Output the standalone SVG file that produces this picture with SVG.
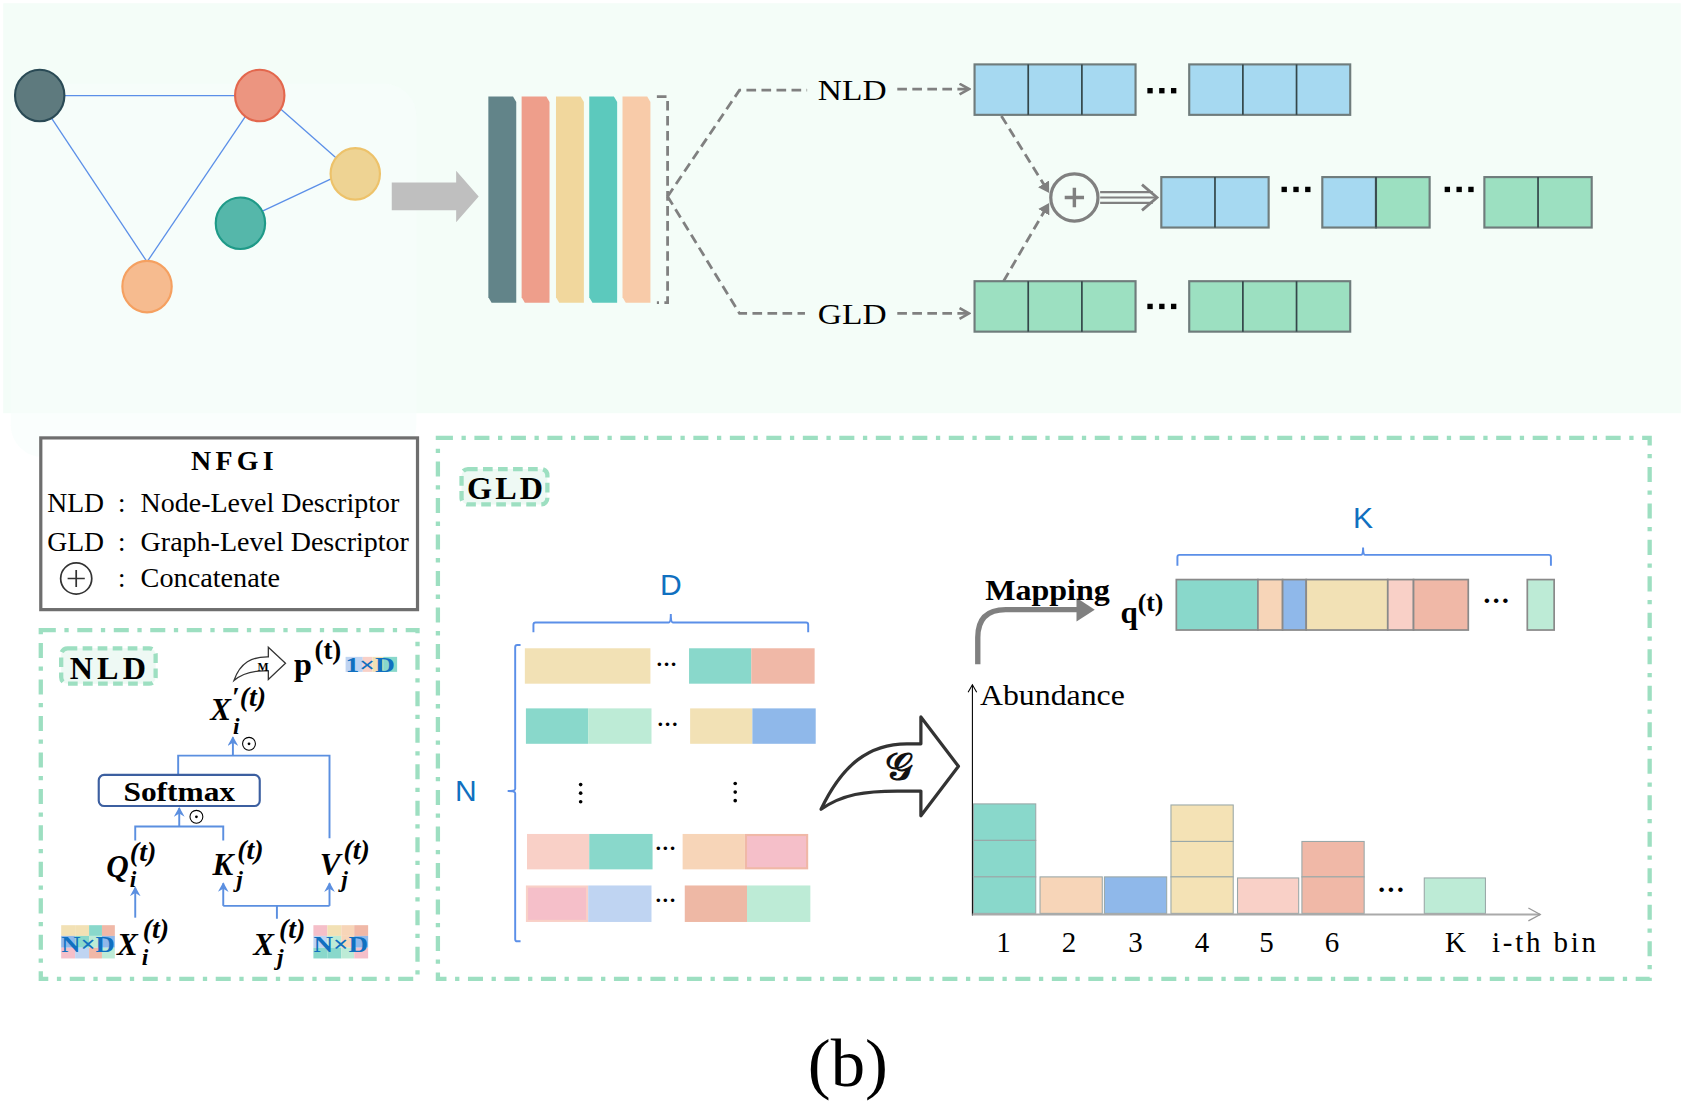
<svg xmlns="http://www.w3.org/2000/svg" width="1683" height="1102" viewBox="0 0 1683 1102">
<defs>
<style>
.serif{font-family:"Liberation Serif","Times New Roman",serif;fill:#000}
.sans{font-family:"Liberation Sans",Arial,sans-serif}
.bi{font-family:"Liberation Serif","Times New Roman",serif;font-weight:bold;font-style:italic;fill:#000}
.b{font-weight:bold}
.edge{stroke:#5b8fe8;stroke-width:1.2;fill:none}
.dash{stroke:#808080;stroke-width:2.6;stroke-dasharray:9,5;fill:none}
.cell{stroke:#6f7c7c;stroke-width:2}
.div{stroke:#34474a;stroke-width:1.6}
.blue{fill:#a6d9f1}
.green{fill:#9ce0c1}
.frame{fill:none;stroke:#9ddfc1;stroke-width:4;stroke-dasharray:14,8,4,8}
.tag{fill:#eef9f4;stroke:#9ddfc1;stroke-width:4;stroke-dasharray:9,5}
.bl{stroke:#5b8fe0;stroke-width:1.8;fill:none}
.brace{stroke:#5b8fe8;stroke-width:1.8;fill:none}
.hist{stroke:#9aa8a8;stroke-width:1}
.dots{font-family:"Liberation Serif",serif;font-weight:bold;fill:#000}
.sq{fill:#000}
.chip{font-family:"Liberation Serif","Times New Roman",serif;font-weight:bold;fill:#1070c0}
</style>
<marker id="open" markerWidth="12" markerHeight="12" refX="10" refY="6" orient="auto" markerUnits="userSpaceOnUse">
<path d="M1,1 L10,6 L1,11" fill="none" stroke="#808080" stroke-width="2.4"/>
</marker>
<marker id="fill" markerWidth="12" markerHeight="12" refX="9" refY="6" orient="auto" markerUnits="userSpaceOnUse">
<path d="M0,0 L10,6 L0,12 Z" fill="#808080"/>
</marker>
<marker id="bluearr" markerWidth="10" markerHeight="10" refX="8" refY="5" orient="auto" markerUnits="userSpaceOnUse">
<path d="M0,0 L9,5 L0,10 L3,5 Z" fill="#5b8fe0"/>
</marker>
<marker id="thin" markerWidth="14" markerHeight="14" refX="12" refY="7" orient="auto" markerUnits="userSpaceOnUse">
<path d="M1,1 L12,7 L1,13" fill="none" stroke="#999" stroke-width="1.2"/>
</marker>
<marker id="thinb" markerWidth="10" markerHeight="10" refX="8" refY="5" orient="auto" markerUnits="userSpaceOnUse">
<path d="M1,1 L8,5 L1,9" fill="none" stroke="#000" stroke-width="1"/>
</marker>
</defs>
<rect width="1683" height="1102" fill="#ffffff"/>
<g transform="scale(1.0733)">
<!-- top panel background -->
<rect x="3" y="3" width="1563" height="382" fill="#f4fdf8"/>
<rect x="10" y="78" width="378" height="348" rx="30" fill="#f7fefb" opacity="0.6"/>

<!-- graph connectors -->
<g id="graph-edges">
<line class="edge" x1="60" y1="89" x2="219" y2="89"/>
<line class="edge" x1="48" y1="110" x2="137" y2="244"/>
<line class="edge" x1="229" y1="108" x2="137" y2="244"/>
<line class="edge" x1="262" y1="102" x2="313" y2="147"/>
<line class="edge" x1="244" y1="197" x2="310" y2="166"/>
</g>
<g id="node-dark"><ellipse cx="37" cy="89" rx="23" ry="24" fill="#5e7a7e" stroke="#2a4a55" stroke-width="2"/></g>
<g id="node-salmon"><ellipse cx="242" cy="89" rx="23" ry="24" fill="#ec9580" stroke="#e3674d" stroke-width="2"/></g>
<g id="node-yellow"><ellipse cx="331" cy="162" rx="23" ry="24" fill="#eed393" stroke="#edc26a" stroke-width="2"/></g>
<g id="node-teal"><ellipse cx="224" cy="208" rx="23" ry="24" fill="#55b7aa" stroke="#1f9a88" stroke-width="2"/></g>
<g id="node-orange"><ellipse cx="137" cy="267" rx="23" ry="24" fill="#f6bb8f" stroke="#f5a060" stroke-width="2"/></g>

<!-- big gray arrow -->
<g id="gray-arrow"><path d="M365,170 L425,170 L425,159 L446,183 L425,207 L425,196 L365,196 Z" fill="#bfbfbf"/></g>

<!-- layer bars -->
<g id="layers">
<path d="M455,90 L478,90 L481,95 L481,282 L458,282 L455,277 Z" fill="#628489"/>
<path d="M486,90 L509,90 L512,95 L512,282 L489,282 L486,277 Z" fill="#ee9e8b"/>
<path d="M518,90 L541,90 L544,95 L544,282 L521,282 L518,277 Z" fill="#f1d79d"/>
<path d="M549,90 L572,90 L575,95 L575,282 L552,282 L549,277 Z" fill="#5cc9bd"/>
<path d="M580,90 L603,90 L606,95 L606,282 L583,282 L580,277 Z" fill="#f8cba9"/>
<path class="dash" d="M612,90 L622,90 L622,282 L612,282"/>
</g>

<!-- connectors top -->
<g id="connectors">
<path class="dash" d="M622,183 L689,84 L752,84"/>
<path class="dash" d="M622,183 L689,292 L750,292"/>
<line class="dash" x1="836" y1="83" x2="903" y2="83" marker-end="url(#open)"/>
<line class="dash" x1="836" y1="292" x2="903" y2="292" marker-end="url(#open)"/>
<line class="dash" x1="933" y1="108" x2="977" y2="179" marker-end="url(#fill)"/>
<line class="dash" x1="935" y1="262" x2="977" y2="190" marker-end="url(#fill)"/>
<g stroke="#808080" stroke-width="2" fill="none">
<line x1="1025" y1="179" x2="1074" y2="179"/>
<line x1="1025" y1="184" x2="1076" y2="184"/>
<line x1="1025" y1="189" x2="1074" y2="189"/>
<path d="M1064,172 L1078,184 L1064,196" stroke-width="2.6"/>
</g>
</g>

<g id="label-nld-top"><text class="serif" x="762" y="93" font-size="28" textLength="64" lengthAdjust="spacingAndGlyphs">NLD</text></g>
<g id="label-gld-top"><text class="serif" x="762" y="302" font-size="28" textLength="64" lengthAdjust="spacingAndGlyphs">GLD</text></g>

<!-- NLD vector -->
<g id="nld-vector">
<rect class="cell blue" x="908" y="60" width="150" height="47"/>
<line class="div" x1="958" y1="60" x2="958" y2="107"/><line class="div" x1="1008" y1="60" x2="1008" y2="107"/>
<rect class="sq" x="1069" y="82" width="5" height="5"/><rect class="sq" x="1080" y="82" width="5" height="5"/><rect class="sq" x="1091" y="82" width="5" height="5"/>
<rect class="cell blue" x="1108" y="60" width="150" height="47"/>
<line class="div" x1="1158" y1="60" x2="1158" y2="107"/><line class="div" x1="1208" y1="60" x2="1208" y2="107"/>
</g>
<!-- GLD vector -->
<g id="gld-vector">
<rect class="cell green" x="908" y="262" width="150" height="47"/>
<line class="div" x1="958" y1="262" x2="958" y2="309"/><line class="div" x1="1008" y1="262" x2="1008" y2="309"/>
<rect class="sq" x="1069" y="283" width="5" height="5"/><rect class="sq" x="1080" y="283" width="5" height="5"/><rect class="sq" x="1091" y="283" width="5" height="5"/>
<rect class="cell green" x="1108" y="262" width="150" height="47"/>
<line class="div" x1="1158" y1="262" x2="1158" y2="309"/><line class="div" x1="1208" y1="262" x2="1208" y2="309"/>
</g>
<!-- concat -->
<g id="concat-op">
<circle cx="1001" cy="184" r="22" fill="none" stroke="#808080" stroke-width="3"/>
<path d="M992,184 L1010,184 M1001,175 L1001,193" stroke="#808080" stroke-width="3.2"/>
</g>
<g id="concat-vector">
<rect class="cell blue" x="1082" y="165" width="100" height="47"/>
<line class="div" x1="1132" y1="165" x2="1132" y2="212"/>
<rect class="sq" x="1194" y="174" width="5" height="5"/><rect class="sq" x="1205" y="174" width="5" height="5"/><rect class="sq" x="1216" y="174" width="5" height="5"/>
<rect class="cell blue" x="1232" y="165" width="50" height="47"/>
<rect class="cell green" x="1282" y="165" width="50" height="47"/>
<line class="div" x1="1282" y1="165" x2="1282" y2="212"/>
<rect class="sq" x="1346" y="174" width="5" height="5"/><rect class="sq" x="1357" y="174" width="5" height="5"/><rect class="sq" x="1368" y="174" width="5" height="5"/>
<rect class="cell green" x="1383" y="165" width="100" height="47"/>
<line class="div" x1="1433" y1="165" x2="1433" y2="212"/>
</g>

<!-- NFGI legend -->
<g id="legend">
<rect x="38" y="408" width="351" height="160" fill="#fff" stroke="#6e6e6e" stroke-width="3"/>
<text class="serif b" x="178" y="438" font-size="26" textLength="77" lengthAdjust="spacing">NFGI</text>
<text class="serif" x="44" y="477" font-size="25" textLength="53" lengthAdjust="spacingAndGlyphs">NLD</text>
<text class="serif" x="110" y="477" font-size="25">:</text>
<text class="serif" x="131" y="477" font-size="25" textLength="241" lengthAdjust="spacingAndGlyphs">Node-Level Descriptor</text>
<text class="serif" x="44" y="513" font-size="25" textLength="53" lengthAdjust="spacingAndGlyphs">GLD</text>
<text class="serif" x="110" y="513" font-size="25">:</text>
<text class="serif" x="131" y="513" font-size="25" textLength="250" lengthAdjust="spacingAndGlyphs">Graph-Level Descriptor</text>
<circle cx="71" cy="539" r="14.5" fill="none" stroke="#333" stroke-width="1.6"/>
<path d="M63,539 L79,539 M71,531 L71,547" stroke="#333" stroke-width="1.6"/>
<text class="serif" x="110" y="547" font-size="25">:</text>
<text class="serif" x="131" y="547" font-size="25" textLength="130" lengthAdjust="spacingAndGlyphs">Concatenate</text>
</g>

<!-- NLD panel -->
<g id="nld-panel">
<rect class="frame" x="38" y="587" width="351" height="325"/>
<rect class="tag" x="57" y="604" width="88" height="33" rx="6"/>
<text class="serif b" x="65" y="633" font-size="30" textLength="71" lengthAdjust="spacing">NLD</text>
<path d="M218,634 C224,617 235,612 249,612 L250,612 L250,603 L266,618 L250,633 L250,625 L246,625 C233,625 225,628 218,634 Z" fill="#fff" stroke="#333" stroke-width="1.2"/>
<text class="serif b" x="245" y="625" font-size="11" text-anchor="middle">M</text>
<text class="serif b" x="274" y="629" font-size="30">p</text>
<text class="serif b" x="293" y="614" font-size="25">(t)</text>
<rect x="322" y="612" width="16" height="14" fill="#bfd4f2"/>
<rect x="338" y="612" width="9" height="14" fill="#f9d0c7"/>
<rect x="347" y="612" width="10" height="14" fill="#f2e1b5"/>
<rect x="357" y="612" width="13" height="14" fill="#89d8cb"/>
<text class="chip" x="322" y="626" font-size="20" textLength="46" lengthAdjust="spacingAndGlyphs">1×D</text>
<text class="bi" x="196" y="671" font-size="29">X</text>
<text class="bi" x="216" y="658" font-size="26">′(t)</text>
<text class="bi" x="217" y="684" font-size="22">i</text>
<path class="bl" d="M166,722 L166,704 L307,704 L307,781"/>
<line class="bl" x1="217" y1="704" x2="217" y2="687" marker-end="url(#bluearr)"/>
<circle cx="232" cy="693" r="6" fill="none" stroke="#000" stroke-width="1"/><circle cx="232" cy="693" r="1.3" fill="#000"/>
<rect x="92" y="722" width="150" height="29" rx="5" fill="#fff" stroke="#3c5fa0" stroke-width="2"/>
<text class="serif b" x="115" y="746" font-size="26" textLength="104" lengthAdjust="spacingAndGlyphs">Softmax</text>
<path class="bl" d="M126,783 L126,770 L208,770 L208,783"/>
<line class="bl" x1="167" y1="770" x2="167" y2="753" marker-end="url(#bluearr)"/>
<circle cx="183" cy="761" r="6" fill="none" stroke="#000" stroke-width="1"/><circle cx="183" cy="761" r="1.3" fill="#000"/>
<text class="bi" x="99" y="817" font-size="29">Q</text>
<text class="bi" x="121" y="802" font-size="26">(t)</text>
<text class="bi" x="121" y="826" font-size="22">i</text>
<text class="bi" x="198" y="815" font-size="29">K</text>
<text class="bi" x="221" y="800" font-size="26">(t)</text>
<text class="bi" x="220" y="826" font-size="22">j</text>
<text class="bi" x="298" y="815" font-size="29">V</text>
<text class="bi" x="320" y="800" font-size="26">(t)</text>
<text class="bi" x="318" y="826" font-size="22">j</text>
<line class="bl" x1="126" y1="855" x2="126" y2="827" marker-end="url(#bluearr)"/>
<path class="bl" d="M258,856 L258,844 M208,844 L307,844"/>
<line class="bl" x1="208" y1="844" x2="208" y2="823" marker-end="url(#bluearr)"/>
<line class="bl" x1="307" y1="844" x2="307" y2="823" marker-end="url(#bluearr)"/>
<!-- NxD chips -->
<g>
<rect x="57" y="862" width="13" height="10" fill="#f2e1b5"/><rect x="70" y="862" width="13" height="10" fill="#f2e1b5"/><rect x="83" y="862" width="12" height="10" fill="#89d8cb"/><rect x="95" y="862" width="12" height="10" fill="#f0b8a7"/>
<rect x="57" y="872" width="13" height="11" fill="#8fb8ea"/><rect x="70" y="872" width="13" height="11" fill="#89d8cb"/><rect x="83" y="872" width="12" height="11" fill="#bdebd6"/><rect x="95" y="872" width="12" height="11" fill="#8fb8ea"/>
<rect x="57" y="883" width="13" height="10" fill="#f5bfc9"/><rect x="70" y="883" width="13" height="10" fill="#bfd4f2"/><rect x="83" y="883" width="12" height="10" fill="#f0b8a7"/><rect x="95" y="883" width="12" height="10" fill="#bdebd6"/>
<text class="chip" x="57" y="887" font-size="22" textLength="50" lengthAdjust="spacingAndGlyphs">N×D</text>
</g>
<text class="bi" x="109" y="890" font-size="29">X</text>
<text class="bi" x="133" y="874" font-size="26">(t)</text>
<text class="bi" x="132" y="899" font-size="22">i</text>
<text class="bi" x="236" y="890" font-size="29">X</text>
<text class="bi" x="260" y="874" font-size="26">(t)</text>
<text class="bi" x="258" y="899" font-size="22">j</text>
<g>
<rect x="292" y="862" width="13" height="10" fill="#f5bfc9"/><rect x="305" y="862" width="13" height="10" fill="#f2e1b5"/><rect x="318" y="862" width="12" height="10" fill="#f7d5b8"/><rect x="330" y="862" width="13" height="10" fill="#f0b8a7"/>
<rect x="292" y="872" width="13" height="11" fill="#bfd4f2"/><rect x="305" y="872" width="13" height="11" fill="#bdebd6"/><rect x="318" y="872" width="12" height="11" fill="#f7d5b8"/><rect x="330" y="872" width="13" height="11" fill="#8fb8ea"/>
<rect x="292" y="883" width="13" height="10" fill="#89d8cb"/><rect x="305" y="883" width="13" height="10" fill="#89d8cb"/><rect x="318" y="883" width="12" height="10" fill="#bdebd6"/><rect x="330" y="883" width="13" height="10" fill="#f5bfc9"/>
<text class="chip" x="292" y="887" font-size="22" textLength="51" lengthAdjust="spacingAndGlyphs">N×D</text>
</g>
</g>

<!-- GLD panel -->
<g id="gld-panel">
<rect class="frame" x="408" y="408" width="1129" height="504"/>
<rect class="tag" x="430" y="437" width="80" height="33" rx="6"/>
<text class="serif b" x="435" y="465" font-size="30" textLength="71" lengthAdjust="spacing">GLD</text>
<text class="sans" x="625" y="554" font-size="28" fill="#1070c0" text-anchor="middle">D</text>
<path class="brace" d="M497,589 L497,582 Q497,580 499,580 L623,580 Q625,580 625,572 Q625,580 627,580 L751,580 Q753,580 753,582 L753,589"/>
<text class="sans" x="434" y="746" font-size="28" fill="#1070c0" text-anchor="middle">N</text>
<path class="brace" d="M485,601 L482,601 Q480,601 480,603 L480,735 Q480,737 473,737 Q480,737 480,739 L480,875 Q480,877 482,877 L485,877"/>
<g id="matrix">
<rect x="489" y="604" width="117" height="33" fill="#f2e1b5"/>
<text class="dots" x="611" y="625" font-size="20">···</text>
<rect x="642" y="604" width="58" height="33" fill="#89d8cb"/><rect x="700" y="604" width="59" height="33" fill="#f0b8a7"/>
<rect x="490" y="660" width="58" height="33" fill="#89d8cb"/><rect x="548" y="660" width="59" height="33" fill="#bdebd6"/>
<text class="dots" x="612" y="681" font-size="20">···</text>
<rect x="643" y="660" width="58" height="33" fill="#f2e1b5"/><rect x="701" y="660" width="59" height="33" fill="#8fb8ea"/>
<g fill="#000"><circle cx="541" cy="731" r="1.7"/><circle cx="541" cy="739" r="1.7"/><circle cx="541" cy="747" r="1.7"/>
<circle cx="685" cy="730" r="1.7"/><circle cx="685" cy="738" r="1.7"/><circle cx="685" cy="746" r="1.7"/></g>
<rect x="491" y="777" width="58" height="33" fill="#f9d0c7"/><rect x="549" y="777" width="59" height="33" fill="#89d8cb"/>
<text class="dots" x="610" y="797" font-size="20">···</text>
<rect x="636" y="777" width="58" height="33" fill="#f7d5b8"/><rect x="695" y="778" width="57" height="31" fill="#f5bfc9" stroke="#f0b8a7" stroke-width="2"/>
<rect x="491" y="826" width="56" height="32" fill="#f5bfc9" stroke="#f9d0c7" stroke-width="2"/><rect x="548" y="825" width="59" height="34" fill="#bfd4f2"/>
<text class="dots" x="610" y="845" font-size="20">···</text>
<rect x="638" y="825" width="58" height="34" fill="#eeb8a5"/><rect x="696" y="825" width="59" height="34" fill="#bdebd6"/>
</g>
<g id="g-arrow">
<path d="M765,754 C785,712 810,693 845,693 L858,693 L858,668 L893,714 L858,760 L858,737 L836,737 C806,737 785,740 765,754 Z" fill="#fff" stroke="#333" stroke-width="3" stroke-linejoin="round"/>
<text x="838" y="727" font-size="36" text-anchor="middle" font-family="DejaVu Serif,Liberation Serif,serif" font-weight="bold" fill="#111">𝒢</text>
</g>
<g id="mapping">
<path d="M911,619 L911,594 Q911,568 937,568 L1005,568" fill="none" stroke="#808080" stroke-width="5"/>
<path d="M1003,557 L1020,568 L1003,579 Z" fill="#808080"/>
<text class="serif b" x="918" y="559" font-size="28" textLength="116" lengthAdjust="spacingAndGlyphs">Mapping</text>
<text class="serif b" x="1044" y="580" font-size="29">q</text>
<text class="serif b" x="1060" y="569" font-size="24">(t)</text>
</g>
<text class="sans" x="1270" y="492" font-size="28" fill="#1070c0" text-anchor="middle">K</text>
<path class="brace" d="M1097,527 L1097,519 Q1097,517 1099,517 L1268,517 Q1270,517 1270,510 Q1270,517 1272,517 L1443,517 Q1445,517 1445,519 L1445,527"/>
<g id="q-vector" stroke="#8a8a8a" stroke-width="1.6">
<rect x="1096" y="540" width="76" height="47" fill="#89d8cb"/>
<rect x="1172" y="540" width="23" height="47" fill="#f7d5b8"/>
<rect x="1195" y="540" width="22" height="47" fill="#8fb8ea"/>
<rect x="1217" y="540" width="76" height="47" fill="#f2e1b5"/>
<rect x="1293" y="540" width="24" height="47" fill="#f9d0c7"/>
<rect x="1317" y="540" width="51" height="47" fill="#f0b8a7"/>
<rect x="1423" y="540" width="25" height="47" fill="#bdebd6"/>
</g>
<text class="dots" x="1381" y="568" font-size="26">···</text>
<g id="histogram">
<line x1="906" y1="853" x2="906" y2="638" stroke="#000" stroke-width="1" marker-end="url(#thinb)"/>
<text class="serif" x="913" y="657" font-size="27" textLength="135" lengthAdjust="spacingAndGlyphs">Abundance</text>
<g class="hist">
<rect x="907" y="749" width="58" height="34" fill="#89d8cb"/><rect x="907" y="783" width="58" height="34" fill="#89d8cb"/><rect x="907" y="817" width="58" height="34" fill="#89d8cb"/>
<rect x="969" y="817" width="58" height="34" fill="#f7d5b8"/>
<rect x="1029" y="817" width="58" height="34" fill="#8fb8ea"/>
<rect x="1091" y="750" width="58" height="34" fill="#f4e2b5"/><rect x="1091" y="784" width="58" height="33" fill="#f4e2b5"/><rect x="1091" y="817" width="58" height="34" fill="#f4e2b5"/>
<rect x="1153" y="818" width="57" height="33" fill="#f9d0c7"/>
<rect x="1213" y="784" width="58" height="33" fill="#f0b8a7"/><rect x="1213" y="817" width="58" height="34" fill="#f0b8a7"/>
<rect x="1327" y="818" width="57" height="33" fill="#bdebd6"/>
</g>
<line x1="906" y1="852" x2="1435" y2="852" stroke="#aaa" stroke-width="2" marker-end="url(#thin)"/>
<text class="dots" x="1283" y="838" font-size="26">···</text>
<g class="serif" font-size="27" text-anchor="middle">
<text x="935" y="887">1</text><text x="996" y="887">2</text><text x="1058" y="887">3</text>
<text x="1120" y="887">4</text><text x="1180" y="887">5</text><text x="1241" y="887">6</text>
<text x="1356" y="887">K</text>
</g>
<text class="serif" x="1390" y="887" font-size="27" textLength="97" lengthAdjust="spacing">i-th bin</text>
</g>
</g>

<g id="caption"><text class="serif" x="790" y="1012" font-size="64" text-anchor="middle">(b)</text></g>
</g>
</svg>
